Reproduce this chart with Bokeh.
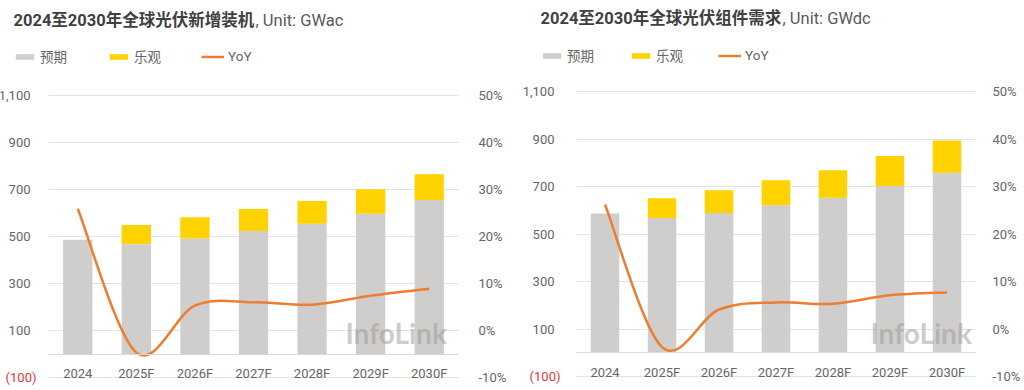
from bokeh.plotting import figure
from bokeh.models import (Range1d, LinearAxis, FixedTicker, NumeralTickFormatter,
                          PrintfTickFormatter, Label, ColumnDataSource,
                          Legend, LegendItem, Grid)
from bokeh.layouts import row
from bokeh.embed import file_html
from bokeh.resources import INLINE

# ---------------- data ----------------
categories = ["2024", "2025F", "2026F", "2027F", "2028F", "2029F", "2030F"]

install_base = [486, 467, 492, 523, 554, 597, 655]      # 预期 (GWac)
install_opt_total = [486, 549, 582, 617, 651, 701, 765]  # 乐观 top (GWac)
install_yoy = [25.9, -4.7, 5.3, 6.0, 5.5, 7.4, 8.9]      # YoY %

module_base = [586, 567, 588, 621, 653, 702, 758]        # 预期 (GWdc)
module_opt_total = [586, 651, 684, 726, 768, 828, 894]   # 乐观 top (GWdc)
module_yoy = [26.2, -3.8, 4.1, 5.6, 5.3, 7.1, 7.7]       # YoY %

left_ticks = [-100, 100, 300, 500, 700, 900, 1100]
pct_ticks = [-10, 0, 10, 20, 30, 40, 50]

legend_labels = ["预期", "乐观", "YoY"]

GRAY = "#d0cecc"
YELLOW = "#ffd200"
ORANGE = "#ed7d31"
TXT = "#666666"
FONT = "Roboto, Noto Sans CJK SC"
H = 388


def smooth_segments(xs, ys):
    n = len(xs)
    P = list(zip(xs, ys))
    out = {k: [] for k in ("x0", "y0", "x1", "y1", "cx0", "cy0", "cx1", "cy1")}
    for i in range(n - 1):
        pm = P[i - 1] if i > 0 else P[i]
        p0, p1 = P[i], P[i + 1]
        p2 = P[i + 2] if i + 2 < n else P[i + 1]
        out["x0"].append(p0[0]); out["y0"].append(p0[1])
        out["x1"].append(p1[0]); out["y1"].append(p1[1])
        out["cx0"].append(p0[0] + (p1[0] - pm[0]) / 6.0)
        out["cy0"].append(p0[1] + (p1[1] - pm[1]) / 6.0)
        out["cx1"].append(p1[0] - (p2[0] - p0[0]) / 6.0)
        out["cy1"].append(p1[1] - (p2[1] - p0[1]) / 6.0)
    return out


def make_chart(title_bold, title_unit, base, opt_total, yoy, g):
    W = g["W"]
    n = len(categories)
    xs = [i + 0.5 for i in range(n)]
    ymin, ymax = left_ticks[0], left_ticks[-1]
    pmin, pmax = pct_ticks[0], pct_ticks[-1]
    # frame covers the whole canvas; data region placed by pixel geometry
    ux = (g["bx1"] - g["bx0"]) / n
    uy = (g["yb"] - g["yt"]) / (ymax - ymin)
    x_lo = -g["bx0"] / ux
    x_hi = n + (W - g["bx1"]) / ux
    y_hi = ymax + g["yt"] / uy
    y_lo = ymin - (H - g["yb"]) / uy
    k = (pmax - pmin) / (ymax - ymin)
    p_lo = pmin + (y_lo - ymin) * k
    p_hi = pmin + (y_hi - ymin) * k

    p = figure(width=W, height=H, x_range=Range1d(x_lo, x_hi),
               y_range=Range1d(y_lo, y_hi),
               x_axis_location=None, y_axis_location=None,
               toolbar_location=None, output_backend="svg",
               min_border_left=0, min_border_right=0,
               min_border_top=0, min_border_bottom=0)
    p.outline_line_color = None
    p.background_fill_color = "white"
    p.border_fill_color = "white"
    p.xgrid.visible = False
    p.ygrid.visible = False
    p.extra_y_ranges = {"pct": Range1d(p_lo, p_hi)}

    grid = Grid(dimension=1, ticker=FixedTicker(ticks=left_ticks),
                grid_line_color="#e3e3e3", grid_line_width=1)
    try:
        grid.cross_bounds = (0, n)
    except AttributeError:
        pass
    p.add_layout(grid)

    # left value axis
    ya = LinearAxis(ticker=FixedTicker(ticks=left_ticks),
                    formatter=NumeralTickFormatter(format="0,0"),
                    fixed_location=0)
    ya.major_label_overrides = {ymin: " "}
    ya.axis_line_color = None
    ya.major_tick_line_color = None
    ya.minor_tick_line_color = None
    ya.major_label_standoff = g["lstand"]
    ya.major_label_text_font = FONT
    ya.major_label_text_font_size = "13px"
    ya.major_label_text_color = TXT
    p.add_layout(ya, "left")

    # right percent axis
    ra = LinearAxis(y_range_name="pct", ticker=FixedTicker(ticks=pct_ticks),
                    formatter=PrintfTickFormatter(format="%d%%"),
                    fixed_location=n)
    ra.axis_line_color = None
    ra.major_tick_line_color = None
    ra.minor_tick_line_color = None
    ra.major_label_standoff = g["rstand"]
    ra.major_label_text_font = FONT
    ra.major_label_text_font_size = "13px"
    ra.major_label_text_color = TXT
    p.add_layout(ra, "right")

    # category axis at value 0
    xa = LinearAxis(ticker=FixedTicker(ticks=xs), fixed_location=0)
    xa.major_label_overrides = {x: c for x, c in zip(xs, categories)}
    xa.bounds = (0, n)
    xa.axis_line_color = "#d9d9d9"
    xa.axis_line_width = 1
    xa.major_tick_line_color = None
    xa.minor_tick_line_color = None
    xa.major_label_standoff = g["xstand"]
    xa.major_label_text_font = FONT
    xa.major_label_text_font_size = "13px"
    xa.major_label_text_color = TXT
    p.add_layout(xa, "below")

    src = ColumnDataSource(dict(x=xs, base=base, opt=opt_total))
    r_base = p.vbar(x="x", top="base", bottom=0, width=0.5, source=src,
                    fill_color=GRAY, line_color=None)
    r_opt = p.vbar(x="x", top="opt", bottom="base", width=0.5, source=src,
                   fill_color=YELLOW, line_color=None)
    seg = smooth_segments(xs, yoy)
    r_line = p.bezier(source=ColumnDataSource(seg), x0="x0", y0="y0", x1="x1", y1="y1",
                      cx0="cx0", cy0="cy0", cx1="cx1", cy1="cy1",
                      line_color=ORANGE, line_width=2.5, y_range_name="pct")

    # red negative label on the left axis
    p.add_layout(Label(x=0, y=ymin, x_offset=-g["lstand"], text="(100)",
                       text_align="right", text_baseline="middle",
                       text_font=FONT, text_font_size="13px", text_color="#e0393e"))

    legend = Legend(items=[LegendItem(label=legend_labels[0], renderers=[r_base]),
                           LegendItem(label=legend_labels[1], renderers=[r_opt]),
                           LegendItem(label=legend_labels[2], renderers=[r_line])],
                    orientation="horizontal", location=(g["lx"], H - g["lyc"] - 7),
                    padding=0, margin=0, spacing=g["lsp"],
                    glyph_width=23, glyph_height=7, label_standoff=4,
                    label_height=14, label_width=20,
                    label_text_font=FONT, label_text_font_size="13.5px",
                    label_text_color=TXT, background_fill_alpha=0,
                    border_line_color=None)
    p.add_layout(legend)

    # title: bold part + unit part
    p.add_layout(Label(x=g["tx"], y=H - g["tyc"], x_units="screen", y_units="screen",
                       text=title_bold, text_font=FONT, text_font_style="bold",
                       text_font_size="16.5px", text_color="#404040",
                       text_baseline="middle"))
    p.add_layout(Label(x=g["tx"] + g["udx"], y=H - g["tyc"], x_units="screen",
                       y_units="screen", text=title_unit, text_font=FONT,
                       text_font_size="16.5px", text_color="#595959",
                       text_baseline="middle"))

    # watermark
    p.add_layout(Label(x=g["wx"], y=H - g["wyc"], x_units="screen", y_units="screen",
                       text="InfoLink", text_font="Lato", text_font_style="bold",
                       text_font_size="28px", text_color="#999999", text_alpha=0.5,
                       text_baseline="middle"))
    return p


g_left = dict(W=512, bx0=48, bx1=458, yt=95, yb=377, lstand=12, rstand=14, xstand=6,
              lx=13, lyc=59, lsp=40, tx=13, tyc=20, udx=242, wx=345, wyc=332)
g_right = dict(W=510, bx0=64, bx1=463, yt=91, yb=376, lstand=16, rstand=11, xstand=6,
               lx=28, lyc=58, lsp=35, tx=28, tyc=18, udx=242, wx=358, wyc=332)

p1 = make_chart("2024至2030年全球光伏新增装机", ", Unit: GWac",
                install_base, install_opt_total, install_yoy, g_left)
p2 = make_chart("2024至2030年全球光伏组件需求", ", Unit: GWdc",
                module_base, module_opt_total, module_yoy, g_right)

layout = row(p1, p2)
open("out.html", "w").write(file_html(layout, INLINE))
